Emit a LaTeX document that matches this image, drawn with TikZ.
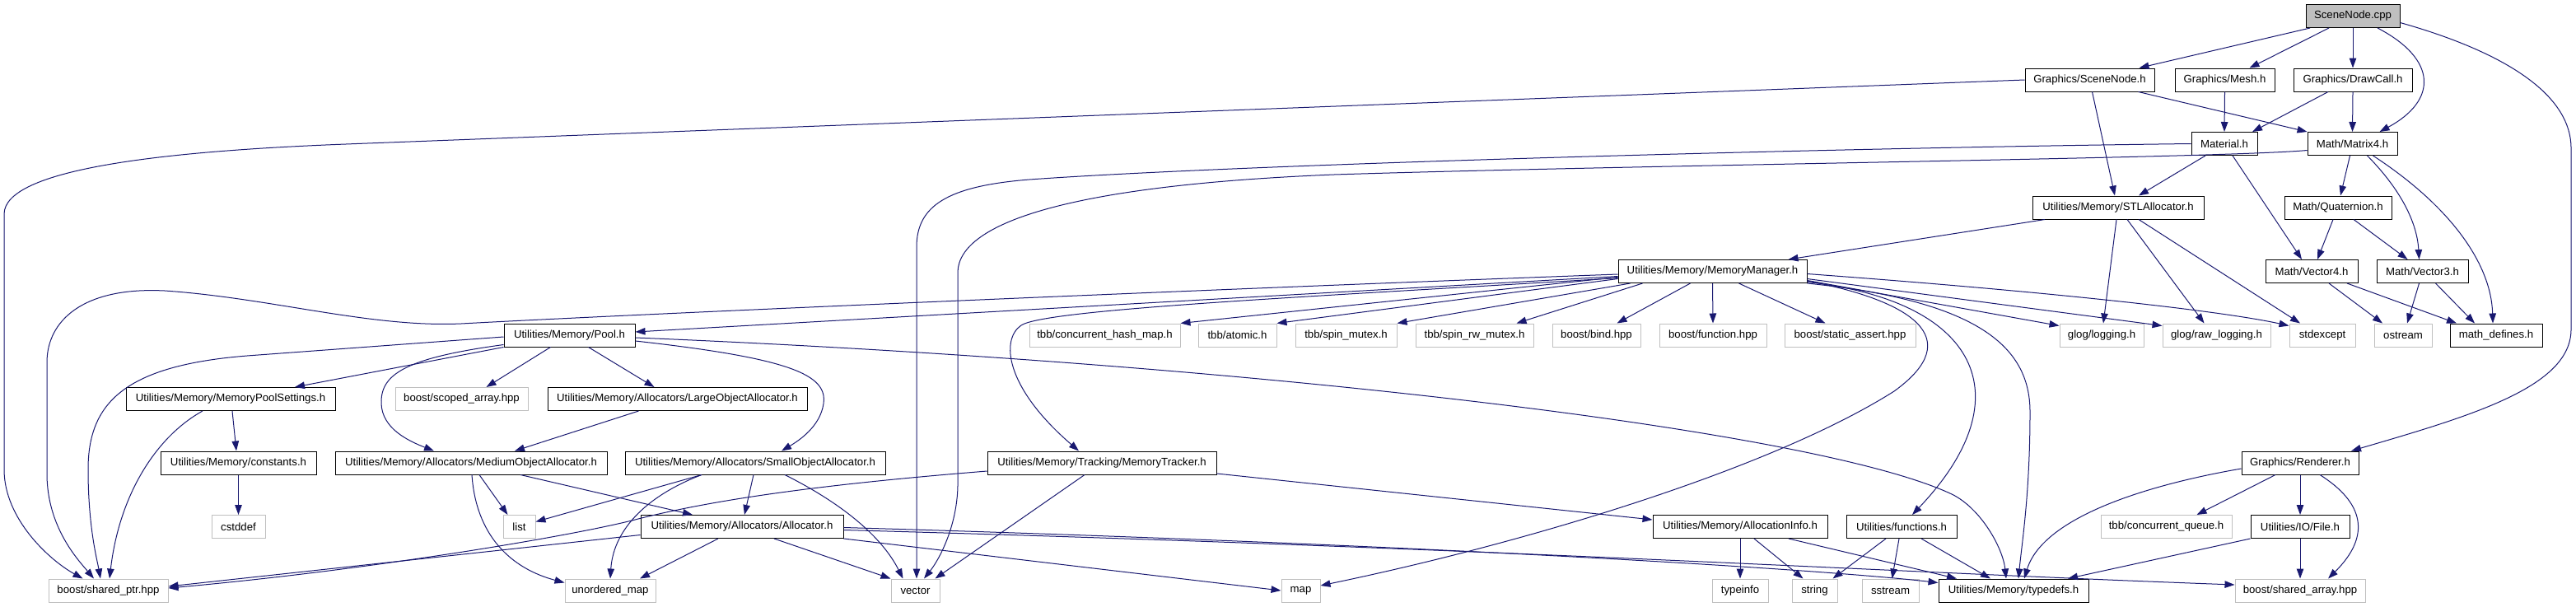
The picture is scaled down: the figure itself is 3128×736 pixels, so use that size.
\documentclass[tikz,border=0pt]{standalone}
\usepackage{fontspec}
\newfontfamily\dgfont{Liberation Sans}
\usetikzlibrary{arrows.meta}
\definecolor{edgeblue}{HTML}{191970}
\definecolor{greyline}{HTML}{BFBFBF}
\tikzset{
  hdr/.style={draw=black, fill=white, line width=1pt, minimum height=28pt, inner sep=0pt,
    font={\dgfont\fontsize{13.2}{15}\selectfont}},
  ext/.style={hdr, draw=greyline},
  root/.style={hdr, fill=greyline},
  dep/.style={draw=edgeblue, line width=1pt, -{Triangle[length=12pt,width=8.5pt]}}
}
\begin{document}
\begin{tikzpicture}[x=1pt, y=-1pt]
\useasboundingbox (0,0) rectangle (3128,736);
% row 0
\node[root, minimum width=114pt] (cpp) at (2857,19.5) {SceneNode.cpp};
% row 1
\node[hdr, minimum width=157pt] (gsn) at (2537.5,97) {Graphics/SceneNode.h};
\node[hdr, minimum width=121pt] (mesh) at (2701.5,97) {Graphics/Mesh.h};
\node[hdr, minimum width=144pt] (dcall) at (2857,97) {Graphics/DrawCall.h};
% row 2
\node[hdr, minimum width=80pt] (mat) at (2701,174.5) {Material.h};
\node[hdr, minimum width=109pt] (mx4) at (2856.5,174.5) {Math/Matrix4.h};
% row 3
\node[hdr, minimum width=208pt] (stl) at (2572,252) {Utilities/Memory/STLAllocator.h};
\node[hdr, minimum width=130pt] (quat) at (2839,252) {Math/Quaternion.h};
% row 4
\node[hdr, minimum width=229pt] (mm) at (2079.5,329.5) {Utilities/Memory/MemoryManager.h};
\node[hdr, minimum width=112pt] (v4) at (2807,329.5) {Math/Vector4.h};
\node[hdr, minimum width=111pt] (v3) at (2941.5,329.5) {Math/Vector3.h};
% row 5
\node[hdr, minimum width=159pt] (pool) at (691.5,407) {Utilities/Memory/Pool.h};
\node[ext, minimum width=183pt] (chm) at (1341.5,407) {tbb/concurrent\_hash\_map.h};
\node[ext, minimum width=95pt] (atom) at (1502.5,407) {tbb/atomic.h};
\node[ext, minimum width=123pt] (spin) at (1634.5,407) {tbb/spin\_mutex.h};
\node[ext, minimum width=143pt] (spinrw) at (1790.5,407) {tbb/spin\_rw\_mutex.h};
\node[ext, minimum width=107pt] (bind) at (1938.5,407) {boost/bind.hpp};
\node[ext, minimum width=130pt] (func) at (2080,407) {boost/function.hpp};
\node[ext, minimum width=159pt] (sassert) at (2246.5,407) {boost/static\_assert.hpp};
\node[ext, minimum width=102pt] (glog) at (2552,407) {glog/logging.h};
\node[ext, minimum width=131pt] (rawlog) at (2691.5,407) {glog/raw\_logging.h};
\node[ext, minimum width=80pt] (stdexc) at (2820,407) {stdexcept};
\node[ext, minimum width=70pt] (ostr) at (2918,407) {ostream};
\node[hdr, minimum width=112pt] (mdef) at (3031,407) {math\_defines.h};
% row 6
\node[hdr, minimum width=254pt] (mps) at (280,484.5) {Utilities/Memory/MemoryPoolSettings.h};
\node[ext, minimum width=161pt] (scoped) at (560.5,484.5) {boost/scoped\_array.hpp};
\node[hdr, minimum width=315pt] (large) at (822.5,484.5) {Utilities/Memory/Allocators/LargeObjectAllocator.h};
% row 7
\node[hdr, minimum width=189pt] (consts) at (289.5,562) {Utilities/Memory/constants.h};
\node[hdr, minimum width=330pt] (medium) at (572,562) {Utilities/Memory/Allocators/MediumObjectAllocator.h};
\node[hdr, minimum width=316pt] (small) at (917,562) {Utilities/Memory/Allocators/SmallObjectAllocator.h};
\node[hdr, minimum width=278pt] (tracker) at (1338,562) {Utilities/Memory/Tracking/MemoryTracker.h};
\node[hdr, minimum width=142pt] (rend) at (2793,562) {Graphics/Renderer.h};
% row 8
\node[ext, minimum width=65pt] (cstddef) at (289.5,639.5) {cstddef};
\node[ext, minimum width=39pt] (list) at (630.5,639.5) {list};
\node[hdr, minimum width=246pt] (alloc) at (901,639.5) {Utilities/Memory/Allocators/Allocator.h};
\node[hdr, minimum width=212pt] (ainfo) at (2113,639.5) {Utilities/Memory/AllocationInfo.h};
\node[hdr, minimum width=134pt] (funcs) at (2309,639.5) {Utilities/functions.h};
\node[ext, minimum width=159pt] (cqueue) at (2630.5,639.5) {tbb/concurrent\_queue.h};
\node[hdr, minimum width=120pt] (file) at (2793,639.5) {Utilities/IO/File.h};
% row 9
\node[ext, minimum width=145pt] (sptr) at (131.5,717) {boost/shared\_ptr.hpp};
\node[ext, minimum width=110pt] (umap) at (741,717) {unordered\_map};
\node[ext, minimum width=59pt] (vec) at (1111.5,717) {vector};
\node[ext, minimum width=47pt] (map) at (1579.5,717) {map};
\node[ext, minimum width=68pt] (tinfo) at (2113,717) {typeinfo};
\node[ext, minimum width=55pt] (str) at (2203.5,717) {string};
\node[ext, minimum width=69pt] (sstr) at (2295.5,717) {sstream};
\node[hdr, minimum width=182pt] (tdefs) at (2445,717) {Utilities/Memory/typedefs.h};
\node[ext, minimum width=158pt] (sarr) at (2793,717) {boost/shared\_array.hpp};

% SceneNode.cpp
\draw[dep] ([xshift=-52pt]cpp.south) -- ([xshift=60pt]gsn.north);
\draw[dep] ([xshift=-29pt]cpp.south) -- ([xshift=30pt]mesh.north);
\draw[dep] (cpp.south) -- (dcall.north);
\draw[dep] ([xshift=30pt]cpp.south) .. controls (2960,72) and (2960,122) .. ([xshift=33pt]mx4.north);
\draw[dep] ([yshift=-8pt]cpp.east) .. controls (3030,60) and (3122,110) .. (3122,180) -- (3122,400) .. controls (3122,470) and (3000,505) .. ([xshift=62pt]rend.north);
% Graphics/SceneNode.h
\draw[dep] (gsn.west) -- (420,175) .. controls (200,183.4) and (5,205) .. (5,260) -- (5,570) .. controls (5,630) and (60,680) .. ([xshift=-31pt]sptr.north);
\draw[dep] ([xshift=59pt]gsn.south) -- (mx4.north west);
\draw[dep] ([xshift=3pt]gsn.south) -- ([xshift=-4pt]stl.north);
% Mesh, DrawCall
\draw[dep] (mesh.south) -- (mat.north);
\draw[dep] ([xshift=-30pt]dcall.south) -- ([xshift=34pt]mat.north);
\draw[dep] (dcall.south) -- (mx4.north);
% Material
\draw[dep] (mat.west) .. controls (2200,180) and (1500,200) .. (1250,218) .. controls (1150,226) and (1113,250) .. (1113,300) -- ([xshift=1.5pt]vec.north);
\draw[dep] ([xshift=-23pt]mat.south) -- ([xshift=25pt]stl.north);
\draw[dep] ([xshift=10pt]mat.south) -- ([xshift=-12pt]v4.north);
% Matrix4
\draw[dep] ([yshift=-8pt]mx4.west) .. controls (2700,192) and (2000,200) .. (1620,212) .. controls (1300,225) and (1165,270) .. (1163,330) -- (1163,590) .. controls (1162,640) and (1140,680) .. ([xshift=10.5pt]vec.north);
\draw[dep] ([xshift=-3pt]mx4.south) -- ([xshift=3pt]quat.north);
\draw[dep] ([xshift=18pt]mx4.south) .. controls (2915,230) and (2935,270) .. ([xshift=-4pt]v3.north);
\draw[dep] ([xshift=25pt]mx4.south) .. controls (2975,250) and (3025,320) .. ([xshift=-4pt]mdef.north);
% Quaternion, Vector4, Vector3
\draw[dep] ([xshift=-6pt]quat.south) -- ([xshift=7pt]v4.north);
\draw[dep] ([xshift=19pt]quat.south) -- ([xshift=-18pt]v3.north);
\draw[dep] ([xshift=21pt]v4.south) -- ([xshift=-25pt]ostr.north);
\draw[dep] ([xshift=43pt]v4.south) -- ([xshift=-48pt]mdef.north);
\draw[dep] ([xshift=-4pt]v3.south) -- ([xshift=5pt]ostr.north);
\draw[dep] ([xshift=16pt]v3.south) -- ([xshift=-26pt]mdef.north);
% STLAllocator
\draw[dep] ([xshift=-89pt]stl.south) -- ([xshift=92pt]mm.north);
\draw[dep] ([xshift=-2pt]stl.south) -- ([xshift=2pt]glog.north);
\draw[dep] ([xshift=11pt]stl.south) -- ([xshift=-15pt]rawlog.north);
\draw[dep] ([xshift=25pt]stl.south) -- ([xshift=-27pt]stdexc.north);
% MemoryManager
\draw[dep] ([yshift=-3.5pt]mm.west) .. controls (1500,350) and (800,380) .. (560,393) .. controls (450,398) and (330,362) .. (200,353) .. controls (100,348) and (57,390) .. (57,440) -- (57,575) .. controls (57,640) and (95,680) .. ([xshift=-17.5pt]sptr.north);
\draw[dep] ([yshift=-6pt]mm.west) -- ([yshift=4pt]pool.east);
\draw[dep] ([yshift=-7pt]mm.west) -- (chm.north east);
\draw[dep] ([yshift=-9pt]mm.west) -- (atom.north east);
\draw[dep] ([xshift=15pt]mm.south west) -- (spin.north east);
\draw[dep] ([xshift=-85pt]mm.south) -- ([xshift=51pt]spinrw.north);
\draw[dep] ([xshift=-27pt]mm.south) -- ([xshift=25pt]bind.north);
\draw[dep] (mm.south) -- (func.north);
\draw[dep] ([xshift=32pt]mm.south) -- ([xshift=-30pt]sassert.north);
\draw[dep] ([yshift=-11pt]mm.east) -- ([yshift=-3pt]glog.north west);
\draw[dep] ([yshift=-9pt]mm.east) -- ([yshift=-3pt]rawlog.north west);
\draw[dep] ([yshift=-3pt]mm.east) .. controls (2500,355) and (2700,378) .. ([yshift=-3pt]stdexc.north west);
\draw[dep] ([yshift=3pt]mm.south east) .. controls (2320,365) and (2390,410) .. (2300,475) .. controls (2150,570) and (1850,660) .. ([yshift=6pt]map.east);
\draw[dep] ([yshift=1.5pt]mm.south east) .. controls (2400,365) and (2460,480) .. ([xshift=13pt]funcs.north);
\draw[dep] (mm.south east) .. controls (2400,365) and (2465,420) .. (2465,500) .. controls (2465,600) and (2455,660) .. ([xshift=6pt]tdefs.north);
\draw[dep] ([yshift=-8pt]mm.west) .. controls (1600,360) and (1270,375) .. (1240,395) .. controls (1215,412) and (1220,470) .. ([xshift=-28pt]tracker.north);
% Pool
\draw[dep] ([yshift=-2pt]pool.west) -- (300,432) .. controls (150,444) and (107,490) .. (107,570) .. controls (107,640) and (118,680) .. ([xshift=-9.5pt]sptr.north);
\draw[dep] (pool.south west) -- ([xshift=78pt]mps.north);
\draw[dep] ([yshift=3pt]pool.south west) .. controls (490,435) and (462,455) .. (463,490) .. controls (464,520) and (495,535) .. ([xshift=-45pt]medium.north);
\draw[dep] ([xshift=-23pt]pool.south) -- ([xshift=30pt]scoped.north);
\draw[dep] ([xshift=23pt]pool.south) -- ([xshift=-28pt]large.north);
\draw[dep] ([yshift=-7pt]pool.east) .. controls (960,435) and (1005,455) .. (1000,490) .. controls (996,518) and (970,535) .. ([xshift=32pt]small.north);
\draw[dep] ([yshift=-3pt]pool.east) .. controls (1500,440) and (2200,520) .. (2370,600) .. controls (2405,617) and (2432,665) .. ([xshift=-9pt]tdefs.north);
% MemoryPoolSettings, constants
\draw[dep] ([xshift=-34pt]mps.south) .. controls (190,530) and (145,600) .. ([xshift=1.5pt]sptr.north);
\draw[dep] ([xshift=2pt]mps.south) -- ([xshift=-2.5pt]consts.north);
\draw[dep] (consts.south) -- (cstddef.north);
% Allocators
\draw[dep] ([xshift=-47pt]large.south) -- ([xshift=53pt]medium.north);
\draw[dep] ([xshift=10pt]medium.south) -- ([xshift=-14pt]list.north);
\draw[dep] ([xshift=1pt]medium.south) .. controls (578,650) and (620,690) .. ([yshift=-5pt]umap.north west);
\draw[dep] ([xshift=60pt]medium.south) -- ([xshift=-60pt]alloc.north);
\draw[dep] ([xshift=-65pt]small.south) -- ([yshift=6pt]list.east);
\draw[dep] ([xshift=-65pt]small.south) .. controls (790,600) and (745,640) .. (umap.north);
\draw[dep] ([xshift=-2pt]small.south) -- ([xshift=3pt]alloc.north);
\draw[dep] ([xshift=36pt]small.south) .. controls (1020,610) and (1070,650) .. ([xshift=-15pt]vec.north);
\draw[dep] ([yshift=-10pt]alloc.west) -- ([yshift=5pt]sptr.east);
\draw[dep] ([xshift=-29pt]alloc.south) -- ([xshift=36pt]umap.north);
\draw[dep] ([xshift=39pt]alloc.south) -- (vec.north west);
\draw[dep] (alloc.south east) -- (map.west);
\draw[dep] ([yshift=-1pt]alloc.east) .. controls (1700,660) and (2200,690) .. ([yshift=-5pt]tdefs.north west);
\draw[dep] ([yshift=-4pt]alloc.east) .. controls (1800,665) and (2300,695) .. ([yshift=7pt]sarr.west);
% MemoryTracker
\draw[dep] ([yshift=-10pt]tracker.west) .. controls (1000,588) and (870,606) .. (775,630) .. controls (700,650) and (450,692) .. ([yshift=3pt]sptr.east);
\draw[dep] ([xshift=-21pt]tracker.south) -- ([xshift=24pt]vec.north);
\draw[dep] ([yshift=-13pt]tracker.east) -- ([yshift=-6pt]ainfo.north west);
% AllocationInfo, functions
\draw[dep] (ainfo.south) -- (tinfo.north);
\draw[dep] ([xshift=17pt]ainfo.south) -- ([xshift=-14pt]str.north);
\draw[dep] ([xshift=59pt]ainfo.south) -- ([xshift=-69pt]tdefs.north);
\draw[dep] ([xshift=-19pt]funcs.south) -- ([xshift=22pt]str.north);
\draw[dep] ([xshift=-3pt]funcs.south) -- ([xshift=2pt]sstr.north);
\draw[dep] ([xshift=24pt]funcs.south) -- ([xshift=-28pt]tdefs.north);
% Renderer, File
\draw[dep] ([yshift=-7pt]rend.west) .. controls (2600,590) and (2480,630) .. ([xshift=13pt]tdefs.north);
\draw[dep] ([xshift=-30pt]rend.south) -- ([xshift=37pt]cqueue.north);
\draw[dep] (rend.south) -- (file.north);
\draw[dep] ([xshift=24pt]rend.south) .. controls (2870,610) and (2880,650) .. ([xshift=34pt]sarr.north);
\draw[dep] (file.south west) -- ([xshift=66pt]tdefs.north);
\draw[dep] (file.south) -- (sarr.north);
\end{tikzpicture}
\end{document}
